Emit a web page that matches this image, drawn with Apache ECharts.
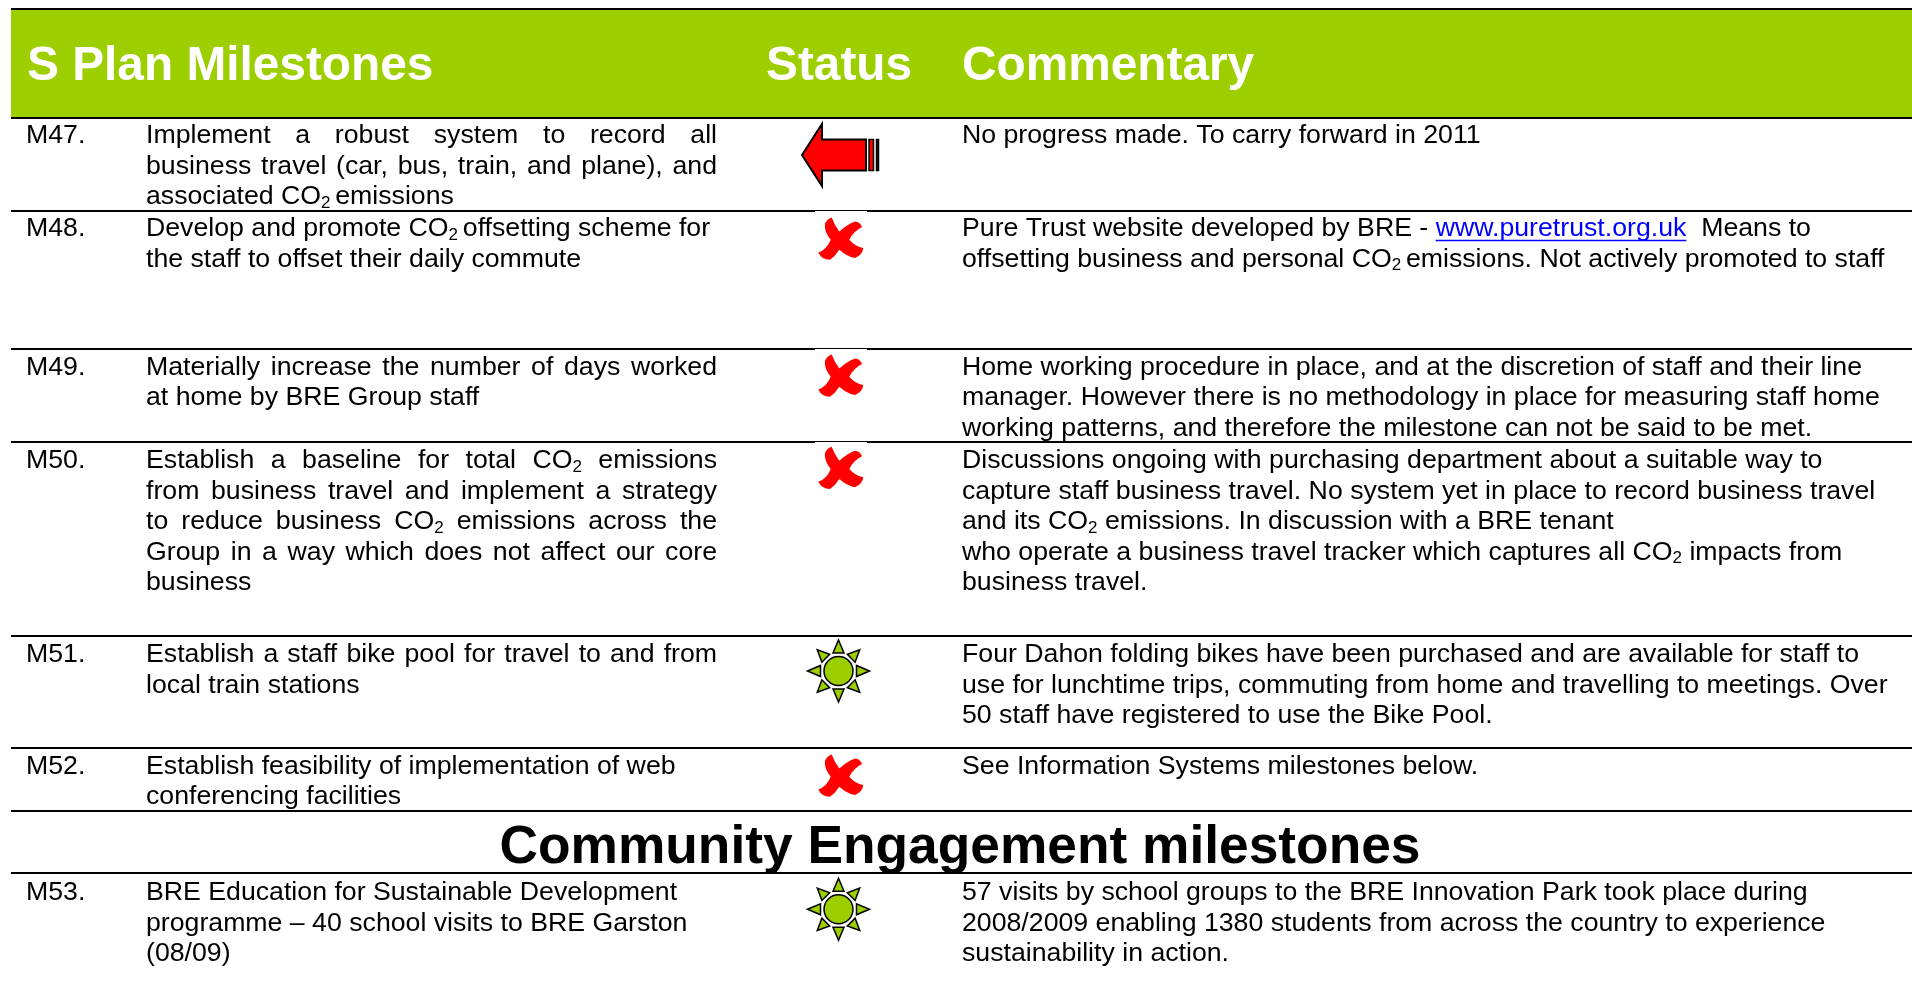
<!DOCTYPE html>
<html>
<head>
<meta charset="utf-8">
<title>S Plan Milestones</title>
<style>
  html, body { margin: 0; padding: 0; background: #fff; }
  #main { width: 1912px; height: 990px; }
</style>
<script src="https://cdn.jsdelivr.net/npm/echarts@6/dist/echarts.min.js"></script>
</head>
<body>
<div id="main"></div>
<script>
// table content. ~x~ marks a subscript, [x] marks a link
var headers = ['S Plan Milestones', 'Status', 'Commentary']
var sectionTitle = 'Community Engagement milestones'
var milestoneIds = ['M47.', 'M48.', 'M49.', 'M50.', 'M51.', 'M52.', 'M53.']
var milestoneLines = [
  ['Implement a robust system to record all', 'business travel (car, bus, train, and plane), and', 'associated CO~2 ~emissions'],
  ['Develop and promote CO~2 ~offsetting scheme for', 'the staff to offset their daily commute'],
  ['Materially increase the number of days worked', 'at home by BRE Group staff'],
  ['Establish a baseline for total CO~2~ emissions', 'from business travel and implement a strategy', 'to reduce business CO~2~ emissions across the', 'Group in a way which does not affect our core', 'business'],
  ['Establish a staff bike pool for travel to and from', 'local train stations'],
  ['Establish feasibility of implementation of web', 'conferencing facilities'],
  ['BRE Education for Sustainable Development', 'programme \u2013 40 school visits to BRE Garston', '(08/09)']
]
// how many leading lines of each milestone are justified
var justifiedCounts = [2, 0, 1, 4, 1, 0, 0]
var statuses = ['arrow', 'cross', 'cross', 'cross', 'sun', 'cross', 'sun']
var commentaryLines = [
  ['No progress made. To carry forward in 2011'],
  ['Pure Trust website developed by BRE - [www.puretrust.org.uk]  Means to', 'offsetting business and personal CO~2 ~emissions. Not actively promoted to staff'],
  ['Home working procedure in place, and at the discretion of staff and their line', 'manager. However there is no methodology in place for measuring staff home', 'working patterns, and therefore the milestone can not be said to be met.'],
  ['Discussions ongoing with purchasing department about a suitable way to', 'capture staff business travel. No system yet in place to record business travel', 'and its CO~2~ emissions. In discussion with a BRE tenant', 'who operate a business travel tracker which captures all CO~2~ impacts from', 'business travel.'],
  ['Four Dahon folding bikes have been purchased and are available for staff to', 'use for lunchtime trips, commuting from home and travelling to meetings. Over', '50 staff have registered to use the Bike Pool.'],
  ['See Information Systems milestones below.'],
  ['57 visits by school groups to the BRE Innovation Park took place during', '2008/2009 enabling 1380 students from across the country to experience', 'sustainability in action.']
]

// layout
var rowTops = [118, 211, 349, 442, 636, 748, 873]
var rulesY = [118, 211, 349, 442, 636, 748, 811, 873]
var textOffsets = [18, 18, 18.5, 19, 19, 18.5, 20]
var iconOffsets = [37, 28.7, 27.7, 27, 35, 28.7, 36.3]
// crosses whose white picture background nibbles the rule above them
var nibbledRows = [1, 2, 3]
var bandLeft = 11
var colId = 26, colText = 146, colTextRight = 717, colComment = 962
var fontFamily = '"Liberation Sans", Arial, sans-serif'
var bodyFont = '26.7px ' + fontFamily
var subFont = '17px ' + fontFamily
var lineGap = 30.5
var green = '#9CCE00'

var ctx = document.createElement('canvas').getContext('2d')
function widthOf (text, font) {
  ctx.font = font
  return ctx.measureText(text).width
}

// the red cross is a drawn shape, the graphic component has no raw path type
echarts.graphic.registerShape('statusCross', echarts.graphic.extendShape({
  shape: { cx: 0, cy: 0 },
  buildPath: function (c, shape) {
    var x = shape.cx, y = shape.cy
    c.moveTo(x - 8.3, y - 22.3)
    c.quadraticCurveTo(x - 5.7, y - 15, x - 0.7, y - 8.3)
    c.quadraticCurveTo(x + 6.7, y - 15, x + 15, y - 18.3)
    c.quadraticCurveTo(x + 20, y - 18, x + 22, y - 12.7)
    c.quadraticCurveTo(x + 13.3, y - 8.3, x + 9.3, y)
    c.quadraticCurveTo(x + 15, y + 6.7, x + 23.3, y + 8.3)
    c.quadraticCurveTo(x + 22.7, y + 15, x + 15, y + 18.3)
    c.quadraticCurveTo(x + 6.7, y + 16.7, x - 0.7, y + 10)
    c.quadraticCurveTo(x - 5, y + 16.7, x - 10, y + 20)
    c.quadraticCurveTo(x - 18.3, y + 20, x - 21.7, y + 12.7)
    c.quadraticCurveTo(x - 13.3, y + 10, x - 9.3, y)
    c.quadraticCurveTo(x - 16, y - 8.3, x - 15, y - 16)
    c.quadraticCurveTo(x - 13.3, y - 20.7, x - 8.3, y - 22.3)
    c.closePath()
  }
}))

var elements = []

function addText (text, x, y, font, fill, align) {
  elements.push({
    type: 'text',
    silent: true,
    style: { text: text, x: x, y: y, font: font, fill: fill, textAlign: align || 'left', textVerticalAlign: 'middle' }
  })
}

function addRule (x1, x2, y, width, color) {
  elements.push({
    type: 'line',
    silent: true,
    shape: { x1: x1, y1: y, x2: x2, y2: y },
    style: { stroke: color || '#000', lineWidth: width }
  })
}

// split a line into runs of plain, subscript and link text
function parseRuns (line) {
  var runs = []
  var re = /~([^~]*)~|\[([^\]]*)\]|([^~\[]+)/g
  var m
  while ((m = re.exec(line))) {
    if (m[1] !== undefined) runs.push({ text: m[1], kind: 'sub' })
    else if (m[2] !== undefined) runs.push({ text: m[2], kind: 'link' })
    else runs.push({ text: m[3], kind: 'plain' })
  }
  return runs
}

function drawRuns (runs, x, y) {
  runs.forEach(function (run) {
    if (run.kind === 'sub') {
      addText(run.text, x, y + 6, subFont, '#000')
      x += widthOf(run.text, subFont)
      return
    }
    var fill = run.kind === 'link' ? '#0000FF' : '#000'
    var w = widthOf(run.text, bodyFont)
    addText(run.text, x, y, bodyFont, fill)
    if (run.kind === 'link') addRule(x, x + w, y + 11.5, 1.5, '#0000FF')
    x += w
  })
}

function wordWidth (word) {
  var w = 0
  parseRuns(word).forEach(function (run) {
    w += widthOf(run.text, run.kind === 'sub' ? subFont : bodyFont)
  })
  return w
}

// justified lines go word by word so the gaps can stretch
function drawJustified (line, x, right, y) {
  var words = line.split(' ')
  var total = 0
  words.forEach(function (w) { total += wordWidth(w) })
  var gap = (right - x - total) / (words.length - 1)
  words.forEach(function (w) {
    drawRuns(parseRuns(w), x, y)
    x += wordWidth(w) + gap
  })
}

function addArrow (cx, cy) {
  elements.push({
    type: 'polygon',
    silent: true,
    shape: {
      points: [[cx - 38, cy], [cx - 18, cy - 31], [cx - 18, cy - 15.5], [cx + 26, cy - 15.5], [cx + 26, cy + 15.5], [cx - 18, cy + 15.5], [cx - 18, cy + 31]]
    },
    style: { fill: '#FF0000', stroke: '#000', lineWidth: 2 }
  })
  elements.push({ type: 'rect', silent: true, shape: { x: cx + 29, y: cy - 15.5, width: 4.5, height: 31 }, style: { fill: '#FF0000', stroke: '#000', lineWidth: 1.5 } })
  elements.push({ type: 'rect', silent: true, shape: { x: cx + 36.5, y: cy - 15.5, width: 2, height: 31 }, style: { fill: '#331111', stroke: '#000', lineWidth: 1.5 } })
}

function addCross (cx, cy) {
  elements.push({
    type: 'statusCross',
    silent: true,
    shape: { cx: cx, cy: cy },
    style: { fill: '#FF0000' }
  })
}

function addSun (cx, cy) {
  for (var i = 0; i < 8; i++) {
    var a = i * Math.PI / 4
    var tip = i % 2 ? 30 : 31
    var base = 18
    var half = 5.5
    var cos = Math.cos(a), sin = Math.sin(a)
    elements.push({
      type: 'polygon',
      silent: true,
      shape: {
        points: [
          [cx + tip * cos, cy + tip * sin],
          [cx + base * cos - half * sin, cy + base * sin + half * cos],
          [cx + base * cos + half * sin, cy + base * sin - half * cos]
        ]
      },
      style: { fill: green, stroke: '#000', lineWidth: 1.5, lineJoin: 'miter' }
    })
  }
  elements.push({
    type: 'circle',
    silent: true,
    shape: { cx: cx, cy: cy, r: 14.5 },
    style: { fill: green, stroke: '#000', lineWidth: 1.5 }
  })
}

// header band
elements.push({ type: 'rect', silent: true, shape: { x: bandLeft, y: 9, width: 1912 - bandLeft, height: 108 }, style: { fill: green } })
addRule(bandLeft, 1912, 9, 2)
var headFont = 'bold 47.8px ' + fontFamily
addText(headers[0], 27, 67, headFont, '#fff')
addText(headers[1], 766, 67, headFont, '#fff')
addText(headers[2], 962, 67, headFont, '#fff')

rulesY.forEach(function (y) { addRule(bandLeft, 1912, y, 2) })
nibbledRows.forEach(function (i) {
  elements.push({ type: 'rect', silent: true, shape: { x: 815, y: rowTops[i], width: 52, height: 1 }, style: { fill: '#fff' } })
})
addText(sectionTitle, 960, 848, 'bold 53.3px ' + fontFamily, '#000', 'center')

milestoneIds.forEach(function (id, i) {
  var top = rowTops[i]
  var y0 = top + textOffsets[i]
  addText(id, colId, y0, bodyFont, '#000')
  milestoneLines[i].forEach(function (line, j) {
    if (j < justifiedCounts[i]) drawJustified(line, colText, colTextRight, y0 + j * lineGap)
    else drawRuns(parseRuns(line), colText, y0 + j * lineGap)
  })
  commentaryLines[i].forEach(function (line, j) {
    drawRuns(parseRuns(line), colComment, y0 + j * lineGap)
  })
  var iconY = top + iconOffsets[i]
  if (statuses[i] === 'arrow') addArrow(840, iconY)
  else if (statuses[i] === 'cross') addCross(840, iconY)
  else addSun(838.5, iconY)
})

var chart = echarts.init(document.getElementById('main'), null, { renderer: 'canvas' })
chart.setOption({
  animation: false,
  backgroundColor: '#fff',
  graphic: { elements: elements }
})
</script>
</body>
</html>
